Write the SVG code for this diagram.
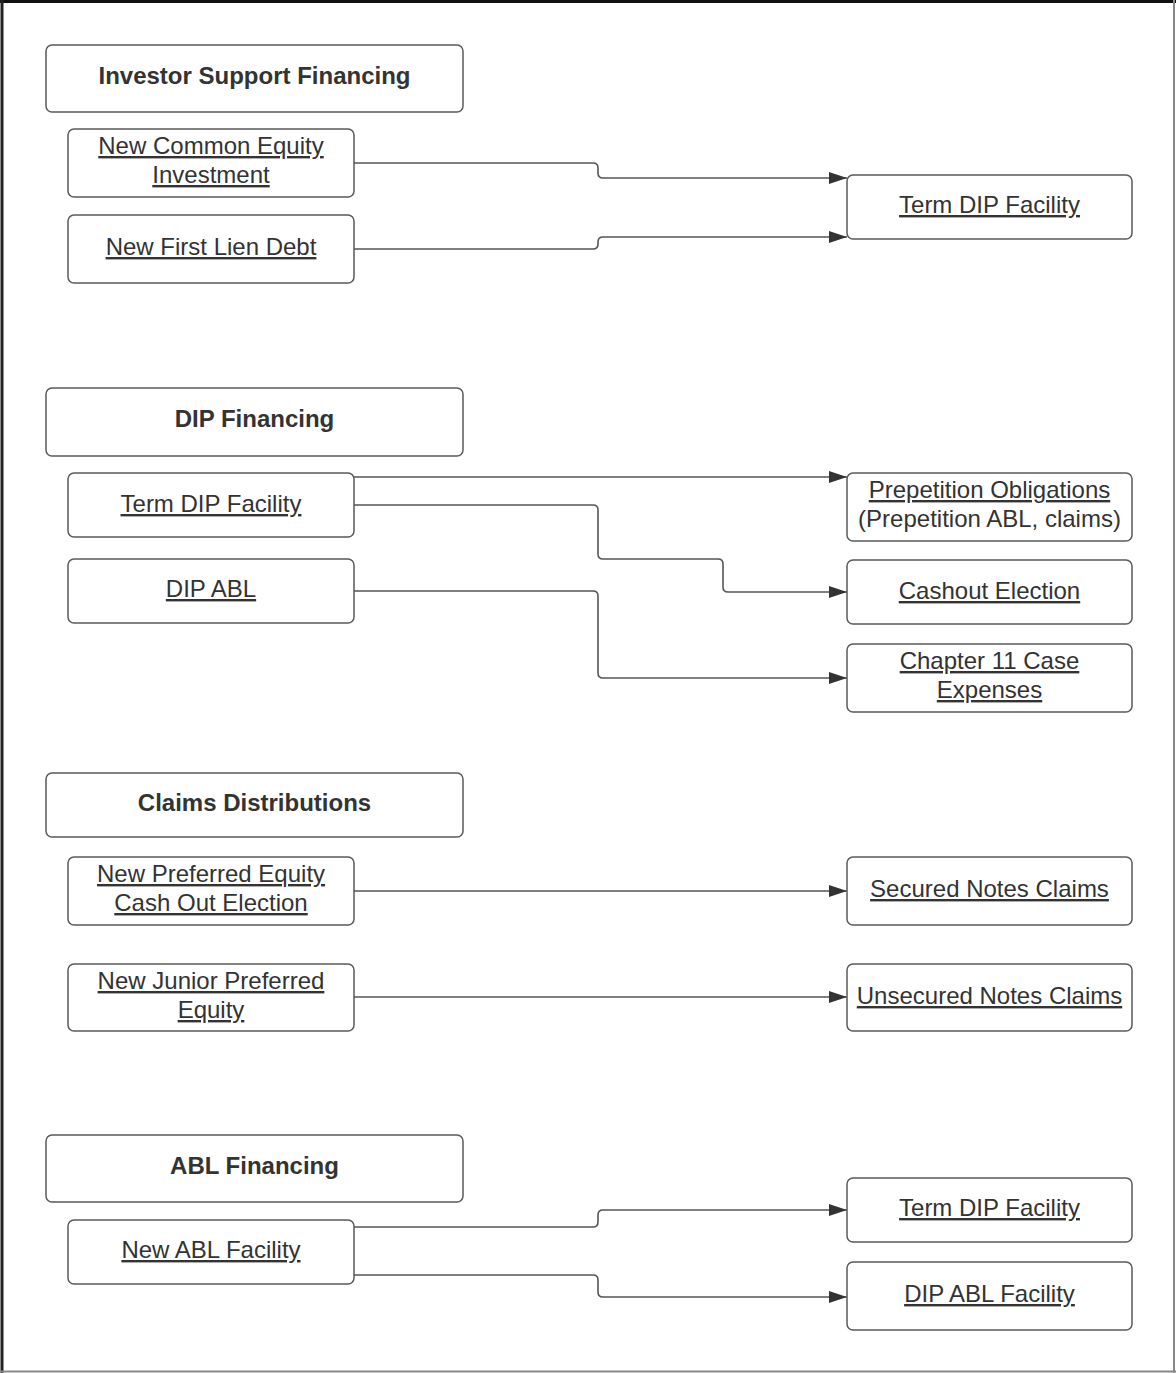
<svg xmlns="http://www.w3.org/2000/svg" width="1176" height="1373" viewBox="0 0 1176 1373">
<defs>
<style>
.box{fill:#fff;stroke:#5a5a5a;stroke-width:1.5}
.hd{font-family:"Liberation Sans",Arial,sans-serif;font-size:24px;font-weight:bold;fill:#333;text-anchor:middle}
.tx{font-family:"Liberation Sans",Arial,sans-serif;font-size:24px;fill:#333;text-anchor:middle}
.u{text-decoration:underline}
.c{fill:none;stroke:#555;stroke-width:1.6}
</style>
<marker id="ah" viewBox="0 0 18 12" refX="18" refY="6" markerWidth="18" markerHeight="12" markerUnits="userSpaceOnUse" orient="auto">
<path d="M0,0 L18,6 L0,12 Z" fill="#333"/>
</marker>
</defs>
<rect width="1176" height="1373" fill="#fff"/>
<line x1="0" y1="1.5" x2="1176" y2="1.5" stroke="#111" stroke-width="3"/>
<line x1="2" y1="0" x2="2" y2="1373" stroke="#222" stroke-width="3"/>
<line x1="1174" y1="0" x2="1174" y2="1373" stroke="#888" stroke-width="2"/>
<line x1="0" y1="1371.5" x2="1176" y2="1371.5" stroke="#888" stroke-width="2"/>

<g id="connectors">
<path class="c" marker-end="url(#ah)" d="M354,163 H593 Q598,163 598,168 V173 Q598,178 603,178 H847"/>
<path class="c" marker-end="url(#ah)" d="M354,249 H593 Q598,249 598,244 V242 Q598,237 603,237 H847"/>
<path class="c" marker-end="url(#ah)" d="M354,477 H847"/>
<path class="c" marker-end="url(#ah)" d="M354,505 H593 Q598,505 598,510 V554 Q598,559 603,559 H718 Q723,559 723,564 V587 Q723,592 728,592 H847"/>
<path class="c" marker-end="url(#ah)" d="M354,591 H593 Q598,591 598,596 V673 Q598,678 603,678 H847"/>
<path class="c" marker-end="url(#ah)" d="M354,891 H847"/>
<path class="c" marker-end="url(#ah)" d="M354,997 H847"/>
<path class="c" marker-end="url(#ah)" d="M354,1227 H593 Q598,1227 598,1222 V1215 Q598,1210 603,1210 H847"/>
<path class="c" marker-end="url(#ah)" d="M354,1275 H593 Q598,1275 598,1280 V1292 Q598,1297 603,1297 H847"/>
</g>

<g id="h-investor"><rect class="box" x="46" y="45" width="417" height="67" rx="6"/><text class="hd" x="254.5" y="84">Investor Support Financing</text></g>
<g id="n-common"><rect class="box" x="68" y="129" width="286" height="68" rx="6"/><text class="tx u" x="211" y="154">New Common Equity</text><text class="tx u" x="211" y="183">Investment</text></g>
<g id="n-firstlien"><rect class="box" x="68" y="215" width="286" height="68" rx="6"/><text class="tx u" x="211" y="255">New First Lien Debt</text></g>
<g id="n-termdip1"><rect class="box" x="847" y="175" width="285" height="64" rx="6"/><text class="tx u" x="989.5" y="213">Term DIP Facility</text></g>

<g id="h-dip"><rect class="box" x="46" y="388" width="417" height="68" rx="6"/><text class="hd" x="254.5" y="427">DIP Financing</text></g>
<g id="n-termdip2"><rect class="box" x="68" y="473" width="286" height="64" rx="6"/><text class="tx u" x="211" y="512">Term DIP Facility</text></g>
<g id="n-dipabl"><rect class="box" x="68" y="559" width="286" height="64" rx="6"/><text class="tx u" x="211" y="597">DIP ABL</text></g>
<g id="n-prepetition"><rect class="box" x="847" y="473" width="285" height="68" rx="6"/><text class="tx u" x="989.5" y="498">Prepetition Obligations</text><text class="tx" x="989.5" y="527">(Prepetition ABL, claims)</text></g>
<g id="n-cashout"><rect class="box" x="847" y="560" width="285" height="64" rx="6"/><text class="tx u" x="989.5" y="599">Cashout Election</text></g>
<g id="n-ch11"><rect class="box" x="847" y="644" width="285" height="68" rx="6"/><text class="tx u" x="989.5" y="669">Chapter 11 Case</text><text class="tx u" x="989.5" y="698">Expenses</text></g>

<g id="h-claims"><rect class="box" x="46" y="773" width="417" height="64" rx="6"/><text class="hd" x="254.5" y="811">Claims Distributions</text></g>
<g id="n-newpref"><rect class="box" x="68" y="857" width="286" height="68" rx="6"/><text class="tx u" x="211" y="882">New Preferred Equity</text><text class="tx u" x="211" y="911">Cash Out Election</text></g>
<g id="n-junior"><rect class="box" x="68" y="964" width="286" height="67" rx="6"/><text class="tx u" x="211" y="989">New Junior Preferred</text><text class="tx u" x="211" y="1018">Equity</text></g>
<g id="n-secured"><rect class="box" x="847" y="857" width="285" height="68" rx="6"/><text class="tx u" x="989.5" y="897">Secured Notes Claims</text></g>
<g id="n-unsecured"><rect class="box" x="847" y="964" width="285" height="67" rx="6"/><text class="tx u" x="989.5" y="1004">Unsecured Notes Claims</text></g>

<g id="h-abl"><rect class="box" x="46" y="1135" width="417" height="67" rx="6"/><text class="hd" x="254.5" y="1174">ABL Financing</text></g>
<g id="n-newabl"><rect class="box" x="68" y="1220" width="286" height="64" rx="6"/><text class="tx u" x="211" y="1258">New ABL Facility</text></g>
<g id="n-termdip3"><rect class="box" x="847" y="1178" width="285" height="64" rx="6"/><text class="tx u" x="989.5" y="1216">Term DIP Facility</text></g>
<g id="n-dipablfac"><rect class="box" x="847" y="1262" width="285" height="68" rx="6"/><text class="tx u" x="989.5" y="1302">DIP ABL Facility</text></g>
</svg>
